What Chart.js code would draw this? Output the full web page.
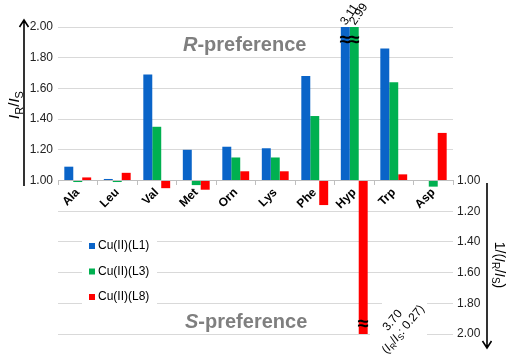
<!DOCTYPE html>
<html>
<head>
<meta charset="utf-8">
<script src="https://cdn.jsdelivr.net/npm/chart.js@4.4.0/dist/chart.umd.min.js"></script>
<style>
  html, body { margin: 0; padding: 0; background: #fff; }
  canvas { display: block; }
</style>
</head>
<body>
<canvas id="chart" width="510" height="358"></canvas>
<script>
const FONT = "'Liberation Sans', Arial, sans-serif";

const aminoAcids = ['Ala', 'Leu', 'Val', 'Met', 'Orn', 'Lys', 'Phe', 'Hyp', 'Trp', 'Asp'];
// positive: I_R/I_S (R-preference), negative: 1/(I_R/I_S) (S-preference)
const cuL1 = [1.09, 1.01, 1.69, 1.20, 1.22, 1.21, 1.68, 3.11, 1.86, null];
const cuL3 = [-1.01, -1.01, 1.35, -1.03, 1.15, 1.15, 1.42, 2.99, 1.64, -1.04];
const cuL8 = [1.02, 1.05, -1.05, -1.06, 1.06, 1.06, -1.16, -3.70, 1.04, 1.31];
const seriesNames = ['Cu(II)(L1)', 'Cu(II)(L3)', 'Cu(II)(L8)'];
const seriesColors = ['#0a64c8', '#00b050', '#ff0000'];
const hypLabels = ['3.11', '2.99'];

// bars grow from the 1.00 line: up for R, down for S
const toOffset = (v) => (v == null ? null : v > 0 ? v - 1 : v + 1);

const makeDataset = (values, i) => ({
  label: seriesNames[i],
  data: values.map(toOffset),
  backgroundColor: seriesColors[i],
  borderWidth: 0,
  categoryPercentage: 0.68,
  barPercentage: 1.0,
  clip: 0,
});

const fontFor = (style, size) => {
  if (style === 'sub') return `${Math.round(size * 0.7)}px ${FONT}`;
  if (style === 'i') return `italic ${size}px ${FONT}`;
  return `${size}px ${FONT}`;
};

// draws "I_R/I_S" style text with subscripts, centred on x=0
const drawRatio = (ctx, parts, size) => {
  let width = 0;
  parts.forEach(([t, style]) => {
    ctx.font = fontFor(style, size);
    width += ctx.measureText(t).width;
  });
  let x = -width / 2;
  parts.forEach(([t, style]) => {
    ctx.font = fontFor(style, size);
    ctx.fillText(t, x, style === 'sub' ? size * 0.3 : 0);
    x += ctx.measureText(t).width;
  });
};

const decorations = {
  id: 'decorations',
  afterDraw(chart) {
    const { ctx, chartArea } = chart;
    ctx.save();
    ctx.fillStyle = '#000';
    ctx.strokeStyle = '#000';
    ctx.lineWidth = 1.6;

    // left arrow (up)
    ctx.beginPath();
    ctx.moveTo(24, 186); ctx.lineTo(24, 21);
    ctx.moveTo(19.5, 27); ctx.lineTo(24, 20); ctx.lineTo(28.5, 27);
    ctx.stroke();
    // right arrow (down)
    ctx.beginPath();
    ctx.moveTo(487, 183); ctx.lineTo(487, 348);
    ctx.moveTo(482.5, 341); ctx.lineTo(487, 348); ctx.lineTo(491.5, 341);
    ctx.stroke();

    // axis titles
    ctx.textBaseline = 'middle';
    ctx.textAlign = 'left';
    ctx.save();
    ctx.translate(15, 105);
    ctx.rotate(-Math.PI / 2);
    drawRatio(ctx, [['I', 'i'], ['R', 'sub'], ['/', ''], ['I', 'i'], ['S', 'sub']], 15);
    ctx.restore();
    ctx.save();
    ctx.translate(499, 265);
    ctx.rotate(Math.PI / 2);
    drawRatio(ctx, [['1/(', ''], ['I', 'i'], ['R', 'sub'], ['/', ''], ['I', 'i'], ['S', 'sub'], [')', '']], 14);
    ctx.restore();

    // preference labels
    ctx.fillStyle = '#7f7f7f';
    const prefLabel = (letter, x, y) => {
      ctx.font = `italic bold 20px ${FONT}`;
      ctx.fillText(letter, x, y);
      const w = ctx.measureText(letter).width;
      ctx.font = `bold 20px ${FONT}`;
      ctx.fillText('-preference', x + w, y);
    };
    prefLabel('R', 183, 45);
    prefLabel('S', 185, 322);

    // Hyp breaks and values
    ctx.fillStyle = '#000';
    const hyp = aminoAcids.indexOf('Hyp');
    const blue = chart.getDatasetMeta(0).data[hyp];
    const green = chart.getDatasetMeta(1).data[hyp];
    const red = chart.getDatasetMeta(2).data[hyp];
    ctx.font = `bold 20px ${FONT}`;
    ctx.textAlign = 'center';
    [blue, green].forEach((bar) => ctx.fillText('\u2248', bar.x, chartArea.top + 13));
    ctx.fillText('\u2248', red.x, chartArea.bottom - 10);

    ctx.font = `12px ${FONT}`;
    ctx.textAlign = 'left';
    [blue, green].forEach((bar, i) => {
      ctx.save();
      ctx.translate(bar.x - 2, chartArea.top - 3);
      ctx.rotate(-56 * Math.PI / 180);
      ctx.fillText(hypLabels[i], 0, 0);
      ctx.restore();
    });

    // 3.70 label with white backing over gridlines
    ctx.fillStyle = '#fff';
    ctx.fillRect(382, 297, 45, 12);
    ctx.fillRect(370, 327, 57, 12);
    ctx.fillStyle = '#000';
    ctx.save();
    ctx.translate(398, 325);
    ctx.rotate(-50 * Math.PI / 180);
    ctx.save();
    ctx.translate(0, -7);
    drawRatio(ctx, [[(-cuL8[hyp]).toFixed(2), '']], 12);
    ctx.restore();
    ctx.save();
    ctx.translate(0, 7);
    drawRatio(ctx, [['(', ''], ['I', 'i'], ['R', 'sub'], ['/', ''], ['I', 'i'], ['S', 'sub'],
      [': ' + (1 / -cuL8[hyp]).toFixed(2) + ')', '']], 12);
    ctx.restore();
    ctx.restore();

    // legend box
    ctx.fillStyle = '#fff';
    ctx.fillRect(82, 232, 75, 76);
    ctx.font = `12px ${FONT}`;
    ctx.textBaseline = 'middle';
    seriesNames.forEach((name, i) => {
      const y = 246 + i * 25.5;
      ctx.fillStyle = seriesColors[i];
      ctx.fillRect(89, y - 3, 6, 6);
      ctx.fillStyle = '#000';
      ctx.fillText(name, 98, y);
    });
    ctx.restore();
  },
};

const tickText = (v, side) => {
  const r = Math.round(v * 100) / 100;
  if (side === 'left') return r >= 0 ? (1 + r).toFixed(2) : '';
  return r <= 0 ? (1 - r).toFixed(2) : '';
};

new Chart(document.getElementById('chart'), {
  type: 'bar',
  data: {
    labels: aminoAcids,
    datasets: [cuL1, cuL3, cuL8].map(makeDataset),
  },
  options: {
    responsive: false,
    animation: false,
    layout: { padding: { top: 27, bottom: 24, left: 0, right: 0 } },
    plugins: { legend: { display: false }, tooltip: { enabled: false } },
    scales: {
      x: {
        position: { y: 0 },
        offset: true,
        grid: { display: true, drawOnChartArea: false, drawTicks: true, tickLength: 4, color: '#bfbfbf', offset: true },
        border: { display: true, color: '#bfbfbf' },
        ticks: {
          minRotation: 45,
          maxRotation: 45,
          padding: 1,
          color: '#000',
          font: { family: FONT, size: 12, weight: 'bold' },
        },
      },
      y: {
        position: 'left',
        min: -1,
        max: 1,
        afterFit: (scale) => { scale.width = 58; },
        grid: { color: '#d9d9d9', drawTicks: false },
        border: { display: false },
        ticks: {
          stepSize: 0.2,
          padding: 5,
          color: '#222',
          font: { family: FONT, size: 12 },
          callback: (v) => tickText(v, 'left'),
        },
      },
      y2: {
        position: 'right',
        min: -1,
        max: 1,
        afterFit: (scale) => { scale.width = 57; },
        grid: { display: false, drawTicks: false },
        border: { display: false },
        ticks: {
          stepSize: 0.2,
          padding: 4,
          color: '#222',
          font: { family: FONT, size: 12 },
          callback: (v) => tickText(v, 'right'),
        },
      },
    },
  },
  plugins: [decorations],
});
</script>
</body>
</html>
